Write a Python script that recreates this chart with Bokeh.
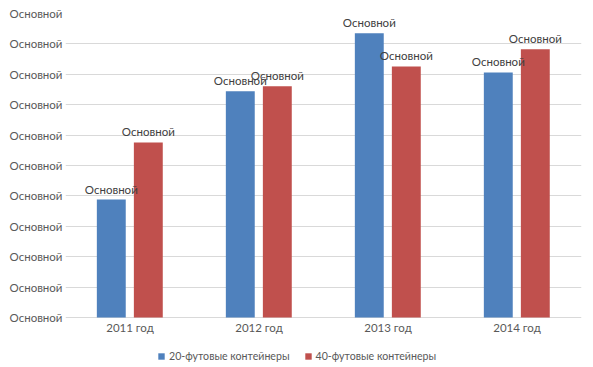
from bokeh.plotting import figure
from bokeh.models import ColumnDataSource, FixedTicker, Legend, LegendItem, LabelSet, FactorRange
from bokeh.transform import dodge
from bokeh.core.properties import value
from bokeh.embed import file_html
from bokeh.resources import INLINE

years = ["2011 год", "2012 год", "2013 год", "2014 год"]
teu20 = [3.88, 7.44, 9.35, 8.06]
teu40 = [5.76, 7.61, 8.26, 8.82]
y_ticks = [0, 1, 2, 3, 4, 5, 6, 7, 8, 9, 10]
tick_label = "Основной"
series_names = ["20-футовые контейнеры", "40-футовые контейнеры"]
colors = ["#4F81BD", "#C0504D"]

src = ColumnDataSource(dict(year=years, a=teu20, b=teu40,
                            lab=[tick_label] * len(years)))

FONT = "Lato"
FS = "11.5px"

# frame extends to the bottom of the canvas so the legend can sit under the category labels
PX_PER_UNIT = 30.4
y_bottom = -50 / PX_PER_UNIT

p = figure(width=593, height=367, x_range=FactorRange(*years), y_range=(y_bottom, 10),
           output_backend="svg", toolbar_location=None,
           min_border_left=65, min_border_right=12, min_border_top=13, min_border_bottom=0)
p.outline_line_color = None
p.background_fill_color = "white"
p.border_fill_color = "white"

r1 = p.vbar(x=dodge("year", -0.145, range=p.x_range), top="a", width=0.224,
            source=src, color=colors[0], line_color=None)
r2 = p.vbar(x=dodge("year", 0.142, range=p.x_range), top="b", width=0.224,
            source=src, color=colors[1], line_color=None)

for col, off in (("a", -0.145), ("b", 0.142)):
    lbl = LabelSet(x=dodge("year", off, range=p.x_range), y=col, text="lab", source=src,
                   text_align="center", text_baseline="bottom", y_offset=4,
                   text_font=value(FONT), text_font_size=FS, text_color="#404040")
    p.add_layout(lbl)

# category labels under the baseline
p.text(x="year", y=0, text="year", source=src, y_offset=10,
       text_align="center", text_baseline="middle",
       text_font=value(FONT), text_font_size=FS, text_color="#595959")

p.xaxis.visible = False

p.yaxis.ticker = FixedTicker(ticks=y_ticks)
p.yaxis.major_label_overrides = {t: tick_label for t in y_ticks}
p.yaxis.axis_line_color = None
p.yaxis.major_tick_line_color = None
p.yaxis.minor_tick_line_color = None
p.yaxis.major_tick_out = 0
p.yaxis.major_label_standoff = 3
p.yaxis.major_label_text_font = FONT
p.yaxis.major_label_text_font_size = FS
p.yaxis.major_label_text_color = "#595959"

p.xgrid.grid_line_color = None
p.ygrid.grid_line_color = "#D9D9D9"
p.ygrid.grid_line_width = 1

legend = Legend(items=[LegendItem(label=series_names[0], renderers=[r1]),
                       LegendItem(label=series_names[1], renderers=[r2])],
                orientation="horizontal", location=(92, 5),
                label_text_font=FONT, label_text_font_size="10.6px",
                label_text_color="#595959",
                glyph_width=8, glyph_height=8, label_standoff=4, spacing=14,
                label_height=12, padding=0, margin=0, border_line_color=None,
                background_fill_alpha=0)
p.add_layout(legend, "center")

open("out.html", "w").write(file_html(p, INLINE))
